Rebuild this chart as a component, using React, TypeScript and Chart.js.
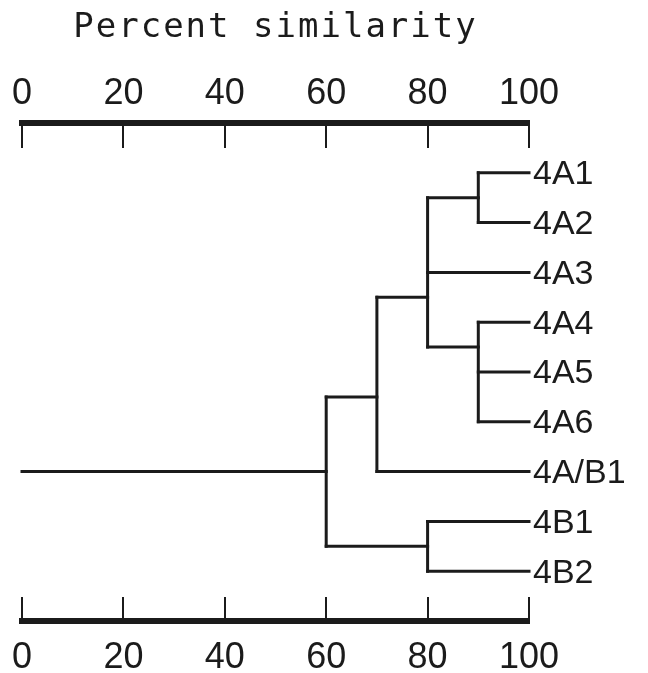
import React, { useEffect, useRef } from 'react';
import { Chart, registerables } from 'chart.js';

Chart.register(...registerables);

// ---- data ----
const leaves = ['4A1', '4A2', '4A3', '4A4', '4A5', '4A6', '4A/B1', '4B1', '4B2'];
// similarity (%) at which each leaf joins its first cluster
const leafJoinLevel = [90, 90, 80, 90, 90, 90, 70, 80, 80];
// internal nodes of the dendrogram
const nodeLevel = [90, 90, 80, 70, 80, 60];
const nodeTop = [1, 4, 1.5, 3.5, 8, 5.5];
const nodeBottom = [2, 6, 4.5, 7, 9, 8.5];
const nodeLinkY = [1.5, 4.5, 3.5, 5.5, 8.5, 7];
const nodeParentLevel = [80, 80, 70, 60, 60, 0];
const axisTicks = [0, 20, 40, 60, 80, 100];
const titleText = 'Percent similarity';

const INK = '#1b1b1b';
const NUM_FONT = 'Liberation Sans, Arial, Helvetica, sans-serif';

function buildDatasets() {
  const segs: { x: number; y: number }[][] = [];
  leaves.forEach((_, i) => {
    segs.push([
      { x: 100, y: i + 1 },
      { x: leafJoinLevel[i], y: i + 1 },
    ]);
  });
  nodeLevel.forEach((lv, i) => {
    segs.push([
      { x: lv, y: nodeTop[i] },
      { x: lv, y: nodeBottom[i] },
    ]);
    segs.push([
      { x: lv, y: nodeLinkY[i] },
      { x: nodeParentLevel[i], y: nodeLinkY[i] },
    ]);
  });
  return segs.map((d) => ({
    type: 'line' as const,
    data: d,
    xAxisID: 'x',
    yAxisID: 'y',
    borderColor: INK,
    borderWidth: 3,
    borderCapStyle: 'square' as const,
    pointRadius: 0,
    pointHoverRadius: 0,
    tension: 0,
    fill: false,
    clip: false as any,
  }));
}

const decorPlugin = {
  id: 'decor',
  afterDraw(chart: any) {
    const ctx: CanvasRenderingContext2D = chart.ctx;
    const area = chart.chartArea;
    const top = chart.scales.xTop;
    const bot = chart.scales.x;
    ctx.save();
    ctx.strokeStyle = INK;
    ctx.lineWidth = 2;
    axisTicks.forEach((v) => {
      const pt = Math.round(top.getPixelForValue(v));
      ctx.beginPath();
      ctx.moveTo(pt, area.top);
      ctx.lineTo(pt, area.top + 25);
      ctx.stroke();
      const pb = Math.round(bot.getPixelForValue(v));
      ctx.beginPath();
      ctx.moveTo(pb, area.bottom - 24);
      ctx.lineTo(pb, area.bottom);
      ctx.stroke();
    });
    ctx.fillStyle = INK;
    ctx.font = '34px "DejaVu Sans Mono", monospace';
    (ctx as any).letterSpacing = '2px';
    ctx.textAlign = 'left';
    ctx.textBaseline = 'alphabetic';
    const w = ctx.measureText(titleText).width;
    const cx = (area.left + area.right) / 2;
    ctx.fillText(titleText, cx - w / 2, 37);
    ctx.restore();
  },
};

export default function App() {
  const ref = useRef<HTMLCanvasElement | null>(null);

  useEffect(() => {
    if (!ref.current) return;
    const xCommon = {
      type: 'linear' as const,
      min: 0,
      max: 100,
      grid: { display: true, drawOnChartArea: false, drawTicks: false },
      border: { display: true, width: 6, color: INK },
    };
    const chart = new Chart(ref.current, {
      type: 'line',
      data: { datasets: buildDatasets() as any },
      options: {
        animation: false,
        responsive: true,
        maintainAspectRatio: false,
        events: [],
        layout: { padding: { left: 22, right: 0, top: 0, bottom: 0 } },
        plugins: {
          legend: { display: false },
          tooltip: { enabled: false },
          title: { display: false },
        },
        scales: {
          x: {
            ...xCommon,
            position: 'bottom',
            afterFit: (s: any) => {
              s.height = 52;
              s.paddingLeft = 0;
              s.paddingRight = 0;
            },
            afterBuildTicks: (s: any) => {
              s.ticks = axisTicks.map((v) => ({ value: v }));
            },
            ticks: {
              autoSkip: false,
              maxRotation: 0,
              padding: 19,
              color: INK,
              font: { family: NUM_FONT, size: 36, lineHeight: 1 },
              callback: (v: any) => String(v),
            },
          },
          xTop: {
            ...xCommon,
            position: 'top',
            afterFit: (s: any) => {
              s.height = 123;
              s.paddingLeft = 0;
              s.paddingRight = 0;
            },
            afterBuildTicks: (s: any) => {
              s.ticks = axisTicks.map((v) => ({ value: v }));
            },
            ticks: {
              autoSkip: false,
              maxRotation: 0,
              padding: 11,
              color: INK,
              font: { family: NUM_FONT, size: 36, lineHeight: 1 },
              callback: (v: any) => String(v),
            },
          },
          y: {
            type: 'linear',
            position: 'right',
            reverse: true,
            min: 0,
            max: 10,
            grid: { display: false, drawTicks: false },
            border: { display: false },
            afterFit: (s: any) => {
              s.width = 119;
            },
            afterBuildTicks: (s: any) => {
              s.ticks = leaves.map((_, i) => ({ value: i + 1 }));
            },
            ticks: {
              autoSkip: false,
              padding: 4,
              labelOffset: 2,
              color: INK,
              font: { family: NUM_FONT, size: 34, lineHeight: 1 },
              callback: (v: any) => leaves[Number(v) - 1] ?? '',
            },
          },
        } as any,
      },
      plugins: [decorPlugin],
    });
    return () => chart.destroy();
  }, []);

  return (
    <div
      style={{
        position: 'fixed',
        left: 0,
        top: 0,
        width: 648,
        height: 673,
        background: '#ffffff',
      }}
    >
      <canvas ref={ref} />
    </div>
  );
}
